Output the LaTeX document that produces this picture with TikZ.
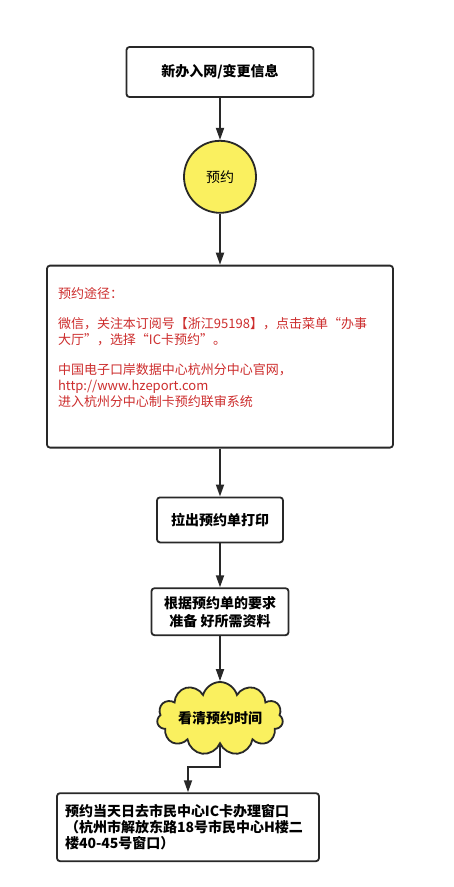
\documentclass[tikz,border=0pt]{standalone}
\usepackage{fontspec}
\setmainfont{Noto Sans CJK SC}
\usetikzlibrary{arrows.meta,positioning,shapes.symbols}
\definecolor{linegray}{RGB}{40,40,40}
\definecolor{noteyellow}{RGB}{250,240,95}
\definecolor{notered}{RGB}{205,45,45}
\newcommand\boxfont{\fontsize{14}{18}\selectfont\bfseries}

\begin{document}
\begin{tikzpicture}[
  x=1pt,y=1pt,
  box/.style={draw=linegray,line width=1.8pt,rounded corners=3pt,align=center,inner sep=0pt,fill=white},
  link/.style={->,draw=linegray,line width=1.8pt},
  >={Triangle[length=12pt,width=8pt]}]
\useasboundingbox[fill=white] (0,0) rectangle (454,-887);
\node[box,minimum width=187pt,minimum height=50pt,font=\boxfont] (reg) at (220,-72) {新办入网/变更信息};
\node[box,circle,fill=noteyellow,minimum size=72pt,font=\fontsize{14}{18}\selectfont,below=42pt of reg] (yy) {预约};
\node[box,below=51pt of yy,minimum width=346pt,minimum height=182pt,text width=324pt,align=left,
  text=notered,font=\fontsize{13}{16}\selectfont] (route) {预约途径：\\[14pt]
微信，关注本订阅号【浙江95198】，点击菜单“办事\\
大厅”，选择“IC卡预约”。\\[14pt]
中国电子口岸数据中心杭州分中心官网，\\
http://www.hzeport.com\\
进入杭州分中心制卡预约联审系统\\[4pt]\mbox{}};
\node[box,below=48pt of route,minimum width=126pt,minimum height=45pt,font=\boxfont] (print) {拉出预约单打印};
\node[box,below=44pt of print,minimum width=137pt,minimum height=47pt,font=\boxfont] (prep) {根据预约单的要求\\准备 好所需资料};
\node[cloud,draw=linegray,line width=1.8pt,fill=noteyellow,cloud puffs=11,aspect=2.4,inner xsep=0pt,inner ysep=-7pt,
  minimum width=126pt,minimum height=52pt,font=\boxfont,below=45pt of prep] (wait) {看清预约时间};
\node[box,below=47pt of wait,xshift=-32pt,minimum width=262pt,minimum height=68pt,text width=246pt,align=left,
  font=\fontsize{14}{16}\selectfont\bfseries] (fin) {预约当天日去市民中心IC卡办理窗口\\
（杭州市解放东路18号市民中心H楼二\\
楼40-45号窗口）};
\draw[link] (reg) -- (yy);
\draw[link] (yy) -- (route);
\draw[link] (route) -- (print);
\draw[link] (print) -- (prep);
\draw[link] (prep) -- (wait);
\draw[link] (wait.south) -- ++(0,-22) -| (fin.north);
\end{tikzpicture}
\end{document}
